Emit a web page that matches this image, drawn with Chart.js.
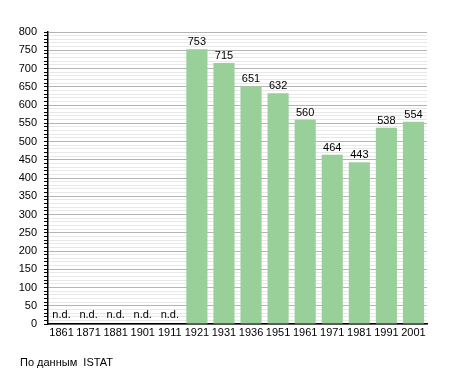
<!DOCTYPE html>
<html>
<head>
<meta charset="utf-8">
<script src="https://cdn.jsdelivr.net/npm/chart.js@4"></script>
<style>
  body { margin: 0; background: #fff; }
  #wrap { width: 455px; height: 373px; position: relative; }
</style>
</head>
<body>
<div id="wrap"><canvas id="myChart" width="455" height="373"></canvas></div>
<script>
// chart data
const years = ['1861', '1871', '1881', '1901', '1911', '1921', '1931', '1936', '1951', '1961', '1971', '1981', '1991', '2001'];
const population = [null, null, null, null, null, 753, 715, 651, 632, 560, 464, 443, 538, 554];
const missingLabel = 'n.d.';
const sourceNote = 'По данным  ISTAT';

const FONT = '"Liberation Sans", Arial, sans-serif';

// major lines every 50, minor every 10
const isMajor = c => !c.tick || c.tick.value % 50 === 0;

// value labels above bars + n.d. for missing years + footer
const labelPlugin = {
    id: 'labels',
    afterDatasetsDraw(chart) {
        const ctx = chart.ctx;
        const x = chart.scales.x;
        const y = chart.scales.y;
        ctx.save();
        ctx.font = '11px ' + FONT;
        ctx.fillStyle = '#000';
        ctx.textAlign = 'center';
        ctx.textBaseline = 'alphabetic';
        population.forEach((v, i) => {
            const cx = x.getPixelForValue(i);
            if (v === null) {
                ctx.fillText(missingLabel, cx, y.getPixelForValue(0) - 6);
            } else {
                ctx.fillText(String(v), cx, y.getPixelForValue(v) - 4);
            }
        });
        ctx.textAlign = 'left';
        ctx.fillText(sourceNote, 20, 366);
        ctx.restore();
    }
};

const ctx = document.getElementById('myChart').getContext('2d');
const myChart = new Chart(ctx, {
    type: 'bar',
    data: {
        labels: years,
        datasets: [{
            data: population,
            backgroundColor: '#99cf99',
            borderWidth: 0,
            barPercentage: 0.78,
            categoryPercentage: 1
        }]
    },
    options: {
        responsive: false,
        animation: false,
        layout: { padding: { left: 0, right: 28, top: 32, bottom: 0 } },
        plugins: { legend: { display: false }, tooltip: { enabled: false } },
        scales: {
            x: {
                grid: { display: false, drawTicks: false },
                border: { color: '#000', width: 1.5 },
                ticks: { color: '#000', font: { size: 11, family: FONT }, padding: 2, maxRotation: 0, autoSkip: false },
                afterFit: s => { s.height = 49; }
            },
            y: {
                min: 0,
                max: 800,
                grid: {
                    color: c => (isMajor(c) ? '#b4b4b4' : '#e8e8e8'),
                    tickColor: '#000',
                    tickLength: 4,
                    drawTicks: true
                },
                border: { color: '#000', width: 1.5 },
                ticks: {
                    stepSize: 10,
                    autoSkip: false,
                    color: '#000',
                    padding: 7,
                    font: { size: 11, family: FONT },
                    callback: v => (v % 50 === 0 ? v : '')
                },
                afterFit: s => { s.width = 48; }
            }
        }
    },
    plugins: [labelPlugin]
});
</script>
</body>
</html>
